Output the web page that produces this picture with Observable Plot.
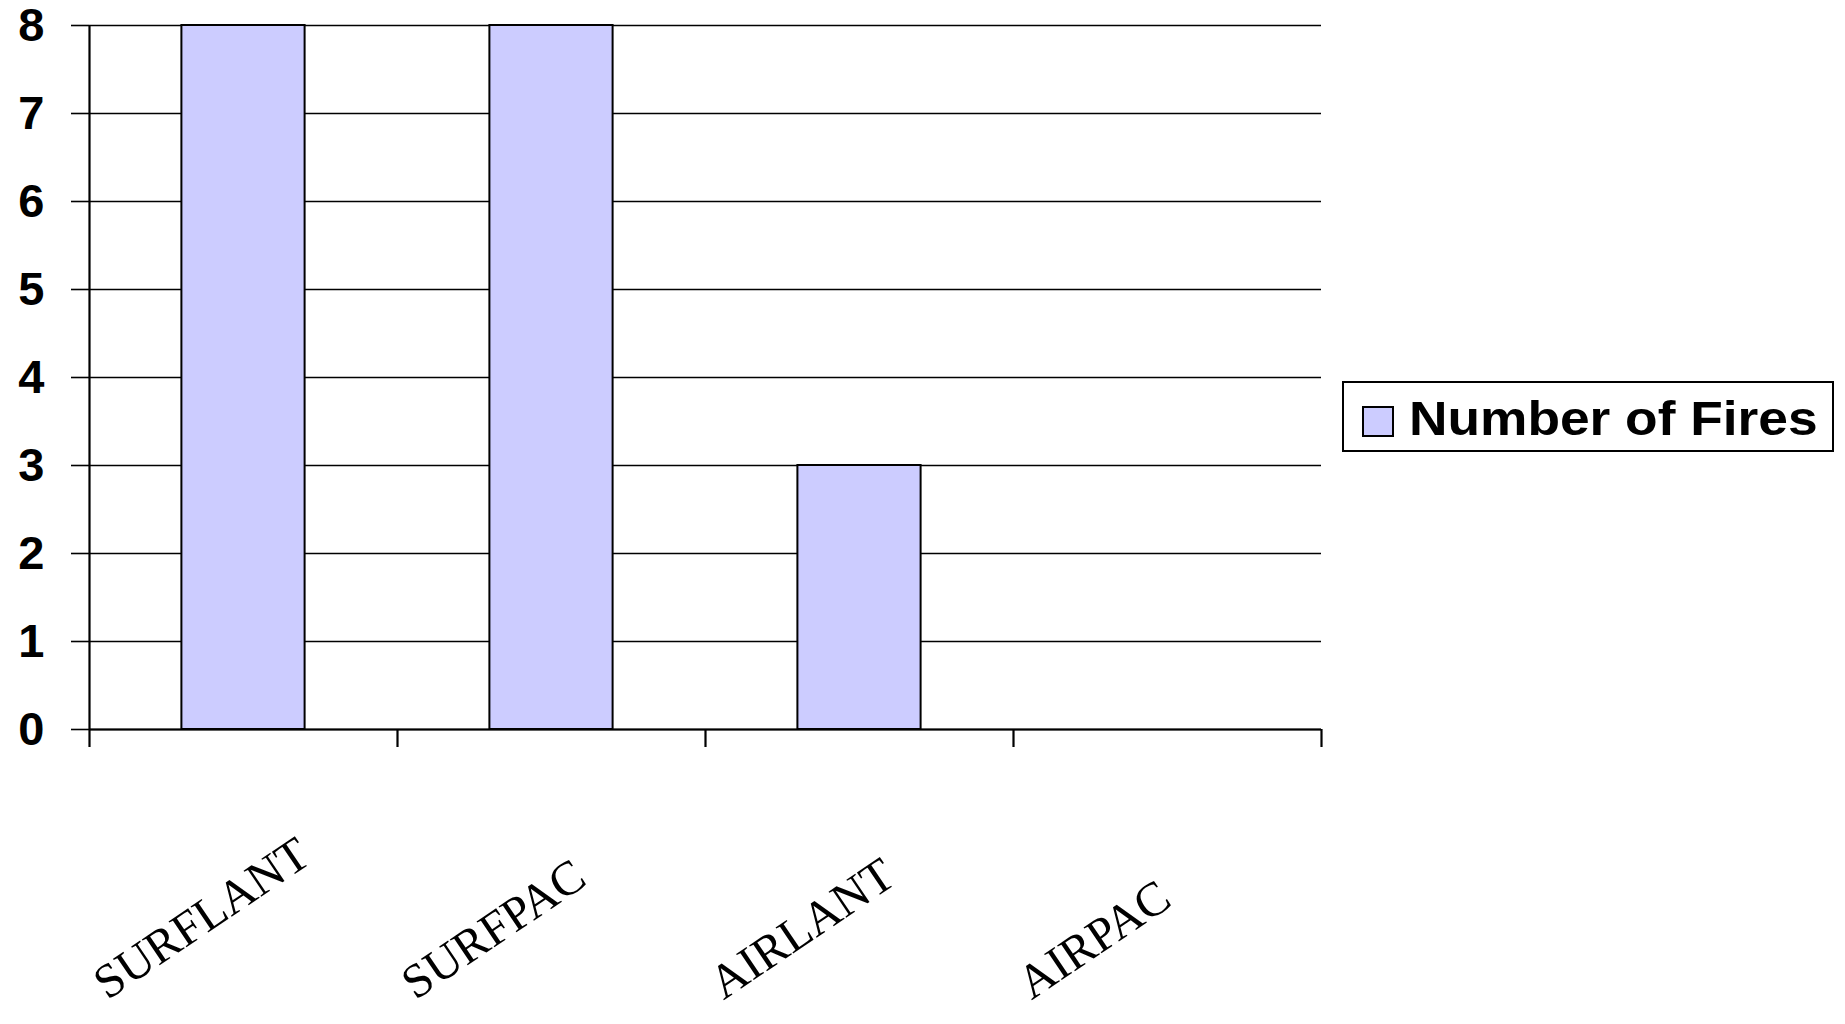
<!DOCTYPE html>
<html>
<head>
<meta charset="utf-8">
<script src="https://cdn.jsdelivr.net/npm/d3@7"></script>
<script src="https://cdn.jsdelivr.net/npm/@observablehq/plot@0.6"></script>
<style>
  html, body { margin: 0; padding: 0; background: #fff; }
  #wrap { position: relative; width: 1845px; height: 1024px; }
  #wrap svg { overflow: visible; }
  #legend {
    position: absolute; left: 1342px; top: 381px;
    width: 492px; height: 71px; box-sizing: border-box;
    border: 2px solid #000; background: #fff;
    display: flex; align-items: center;
    font-family: "Liberation Sans", Arial, sans-serif; font-weight: bold; font-size: 48px;
    color: #000; overflow: visible; white-space: nowrap;
  }
  #legend .sw {
    width: 32px; height: 31px; box-sizing: border-box; margin-left: 18px; margin-right: 15px;
    margin-top: 10px;
    background: #ccccff; border: 2px solid #000; flex: none;
  }
  #legend .lbl { display: inline-block; transform: scaleX(1.11); transform-origin: left center; margin-top: 4px; }
</style>
</head>
<body>
<div id="wrap"></div>
<script>
// Fires by command
const categories = ["SURFLANT", "SURFPAC", "AIRLANT", "AIRPAC"];
const fires = [8, 8, 3, 0];
const yTicks = [0, 1, 2, 3, 4, 5, 6, 7, 8];
const seriesName = "Number of Fires";

const data = categories.map((c, i) => ({category: c, index: i, value: fires[i]}));
const bounds = d3.range(categories.length + 1);

const chart = Plot.plot({
  width: 1845,
  height: 1024,
  marginTop: 25,
  marginBottom: 295,
  marginLeft: 89,
  marginRight: 524,
  style: {background: "#fff", fontFamily: "'Liberation Sans', Arial, sans-serif"},
  x: {domain: [0, categories.length], axis: null},
  y: {domain: [0, 8], axis: null},
  marks: [
    Plot.gridY(yTicks, {stroke: "#000", strokeOpacity: 1, strokeWidth: 1.6}),
    Plot.axisY(yTicks, {
      tickSize: 18, tickPadding: 27, stroke: "#000", strokeWidth: 1.6,
      tickFormat: d3.format("d"),
      fontSize: 47, fontWeight: "bold", fill: "#000", label: null
    }),
    Plot.rectY(data, {
      x1: d => d.index + 0.3, x2: d => d.index + 0.7, y: "value",
      fill: "#ccccff", stroke: "#000", strokeWidth: 2, insetLeft: 0, insetRight: 0
    }),
    Plot.ruleX([0], {stroke: "#000", strokeWidth: 2.2}),
    Plot.ruleY([0], {stroke: "#000", strokeWidth: 2.2}),
    Plot.axisX(bounds, {tickSize: 18, tickFormat: () => "", stroke: "#000", strokeWidth: 2.2, label: null}),
    Plot.text(data, {
      x: d => d.index + 0.5, frameAnchor: "bottom", text: "category",
      rotate: -34, dx: -136, dy: 271,
      fontFamily: "'Liberation Serif', 'Times New Roman', serif",
      fontSize: 48, fill: "#000", textAnchor: "start"
    })
  ]
});

const wrap = document.getElementById("wrap");
wrap.appendChild(chart);
const legend = document.createElement("div");
legend.id = "legend";
legend.innerHTML = `<span class="sw"></span><span class="lbl">${seriesName}</span>`;
wrap.appendChild(legend);
</script>
</body>
</html>
